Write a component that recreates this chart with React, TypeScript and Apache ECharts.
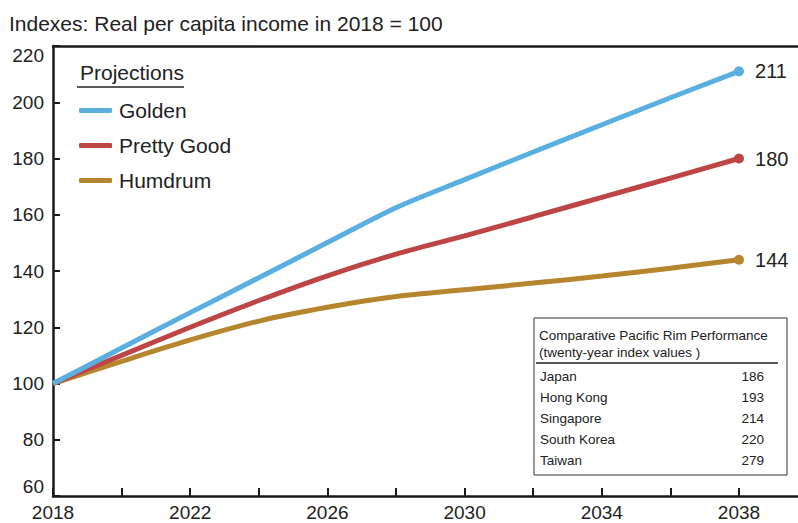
import React, { useEffect, useRef } from "react";
import * as echarts from "echarts";

const years = [2018, 2020, 2022, 2024, 2026, 2028, 2030, 2032, 2034, 2036, 2038];
const golden = [100, 112.6, 125.2, 137.6, 150.1, 162.5, 172.5, 182.3, 192, 201.6, 211];
const prettyGood = [100, 110, 120, 129.5, 138.3, 146, 152.5, 159.3, 166.2, 173, 180];
const humdrum = [100, 107.9, 115.5, 122.2, 127.1, 130.9, 133.3, 135.7, 138.2, 141, 144];

const seriesNames = ["Golden", "Pretty Good", "Humdrum"];
const seriesColors = ["#5BAEE0", "#BE4545", "#B5862E"];

const tableTitle1 = "Comparative Pacific Rim Performance";
const tableTitle2 = "(twenty-year index values )";
const countries = ["Japan", "Hong Kong", "Singapore", "South Korea", "Taiwan"];
const countryValues = [186, 193, 214, 220, 279];

const chartTitle = "Indexes: Real per capita income in 2018 = 100";
const legendTitle = "Projections";

const FONT = "'Liberation Sans', Arial, Helvetica, sans-serif";
const INK = "#222222";

export default function App() {
  const ref = useRef<HTMLDivElement>(null);

  useEffect(() => {
    if (!ref.current) return;
    const chart = echarts.init(ref.current, undefined, { renderer: "svg" });
    const allData = [golden, prettyGood, humdrum];
    const last = years.length - 1;

    const tableChildren: any[] = [
      {
        type: "rect",
        shape: { x: 0, y: 0, width: 253, height: 157 },
        style: { fill: "#fff", stroke: "#333", lineWidth: 1 },
      },
      {
        type: "text",
        x: 5,
        y: 17,
        style: { text: tableTitle1, font: `13.5px ${FONT}`, fill: INK, verticalAlign: "middle" },
      },
      {
        type: "text",
        x: 5,
        y: 34,
        style: { text: tableTitle2, font: `13.5px ${FONT}`, fill: INK, verticalAlign: "middle" },
      },
      {
        type: "line",
        shape: { x1: 2, y1: 45, x2: 244, y2: 45 },
        style: { stroke: "#222", lineWidth: 1.3 },
      },
    ];
    countries.forEach((c, i) => {
      const y = 58 + i * 21;
      tableChildren.push({
        type: "text",
        x: 6,
        y,
        style: { text: c, font: `13.5px ${FONT}`, fill: INK, verticalAlign: "middle" },
      });
      tableChildren.push({
        type: "text",
        x: 230,
        y,
        style: {
          text: String(countryValues[i]),
          font: `13.5px ${FONT}`,
          fill: INK,
          align: "right",
          verticalAlign: "middle",
        },
      });
    });

    chart.setOption({
      animation: false,
      backgroundColor: "#ffffff",
      textStyle: { fontFamily: FONT },
      title: {
        text: chartTitle,
        left: 4,
        top: 8,
        textStyle: { fontSize: 21, fontWeight: "normal", color: INK, fontFamily: FONT },
      },
      legend: {
        data: seriesNames,
        orient: "vertical",
        left: 79,
        top: 100,
        padding: 0,
        icon: "roundRect",
        itemWidth: 33,
        itemHeight: 5,
        itemGap: 14,
        textStyle: { fontSize: 21, color: INK, fontFamily: FONT, padding: [0, 0, 0, 2] },
      },
      grid: { left: 53, right: 0, top: 46, bottom: 27, containLabel: false },
      xAxis: [
        {
          type: "value",
          min: 2018,
          max: 2039.72,
          interval: 2,
          axisLine: { show: true, lineStyle: { color: "#1a1a1a", width: 2.5 } },
          axisTick: { show: true, inside: true, length: 8, lineStyle: { color: "#1a1a1a", width: 2 } },
          axisLabel: {
            fontSize: 19,
            color: INK,
            margin: 7,
            fontFamily: FONT,
            showMaxLabel: false,
            formatter: (v: number) =>
              Number.isInteger(v) && (v - 2018) % 4 === 0 ? String(v) : "",
          },
          splitLine: { show: false },
        },
        {
          type: "value",
          position: "top",
          min: 2018,
          max: 2039.72,
          interval: 2,
          axisLine: { show: true, lineStyle: { color: "#1a1a1a", width: 2.5 } },
          axisTick: { show: false },
          axisLabel: { show: false },
          splitLine: { show: false },
        },
      ],
      yAxis: {
        type: "value",
        min: 60,
        max: 220,
        interval: 20,
        axisLine: { show: true, lineStyle: { color: "#1a1a1a", width: 2.5 } },
        axisTick: { show: true, inside: true, length: 7, lineStyle: { color: "#1a1a1a", width: 2 } },
        axisLabel: {
          fontSize: 19,
          color: INK,
          margin: 9,
          fontFamily: FONT,
          verticalAlignMaxLabel: "top",
          verticalAlignMinLabel: "bottom",
        },
        splitLine: { show: false },
      },
      series: seriesNames.map((name, si) => ({
        name,
        type: "line",
        xAxisIndex: 0,
        data: years.map((y, i) => [y, allData[si][i]]),
        color: seriesColors[si],
        smooth: 0.3,
        lineStyle: { width: 5, color: seriesColors[si] },
        itemStyle: { color: seriesColors[si] },
        symbol: "circle",
        showSymbol: true,
        symbolSize: (_v: any, p: any) => (p.dataIndex === last ? 10 : 0),
        endLabel: {
          show: true,
          distance: 16,
          fontSize: 20,
          color: INK,
          fontFamily: FONT,
          formatter: (p: any) => String(Math.round(p.value[1])),
        },
        z: 3 - si,
      })),
      graphic: [
        {
          type: "text",
          left: 80,
          top: 62,
          style: { text: legendTitle, font: `21px ${FONT}`, fill: INK },
        },
        {
          type: "line",
          shape: { x1: 77, y1: 87, x2: 184, y2: 87 },
          style: { stroke: "#222", lineWidth: 1.5 },
        },
        {
          type: "group",
          x: 534,
          y: 318,
          children: tableChildren,
        },
      ],
    });

    return () => chart.dispose();
  }, []);

  return (
    <div
      ref={ref}
      style={{ position: "fixed", left: 0, top: 0, width: 798, height: 523 }}
    />
  );
}
